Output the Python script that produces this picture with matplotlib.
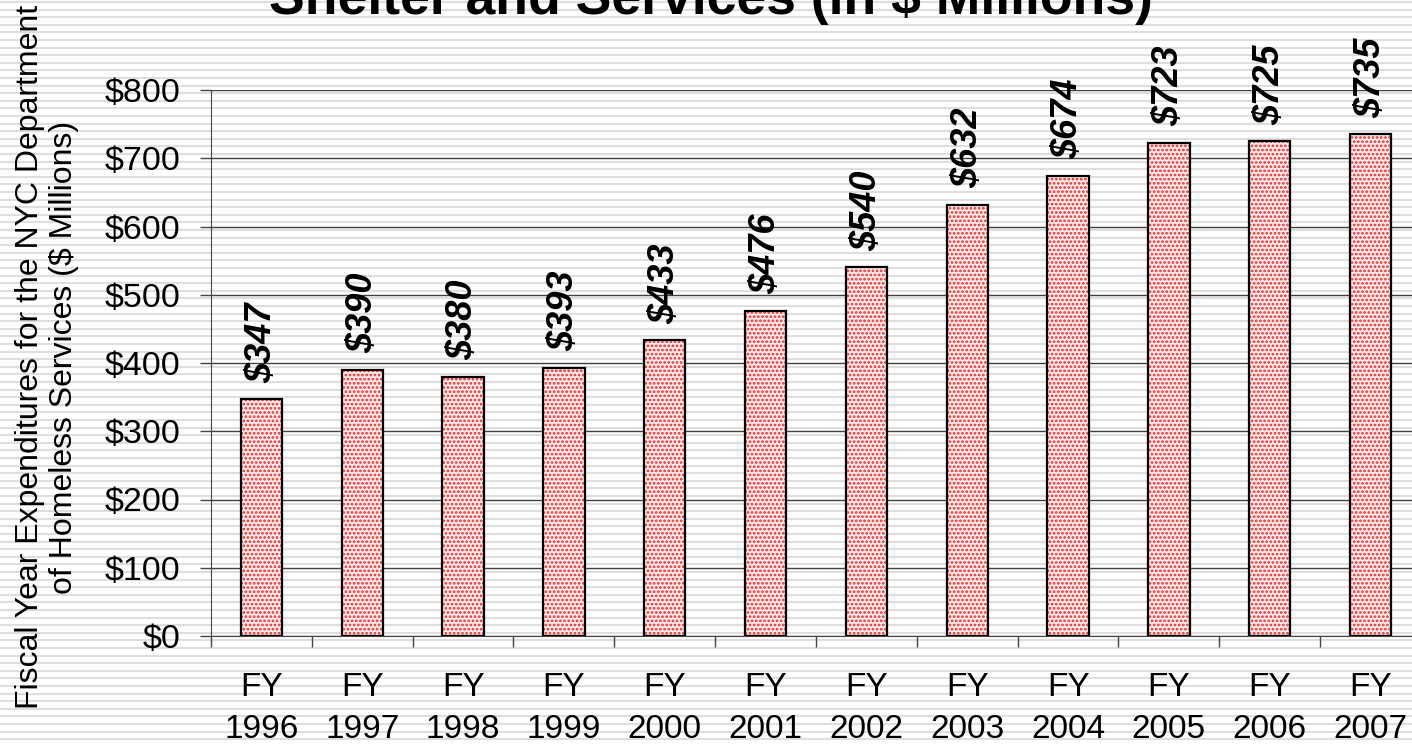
import matplotlib
matplotlib.use("Agg")
import matplotlib.pyplot as plt
import numpy as np

years = ["1996", "1997", "1998", "1999", "2000", "2001", "2002", "2003", "2004", "2005", "2006", "2007"]
values = [347, 390, 380, 393, 433, 476, 540, 632, 674, 723, 725, 735]
tick_labels = [f"FY\n{y}" for y in years]
y_ticks = [0, 100, 200, 300, 400, 500, 600, 700, 800]
title = "Shelter and Services (in $ Millions)"
ylabel = "Fiscal Year Expenditures for the NYC Department\nof Homeless Services ($ Millions)"

plt.rcParams['font.family'] = ['Liberation Sans', 'DejaVu Sans']
plt.rcParams['hatch.linewidth'] = 1.3

W, H = 1412, 745
fig = plt.figure(figsize=(W / 100, H / 100), dpi=100)
fig.patch.set_facecolor('white')

# striped background
bg = fig.add_axes([0, 0, 1, 1], zorder=-10)
bg.set_xlim(0, W)
bg.set_ylim(H, 0)
bg.axis('off')
for yy in np.arange(2.0, H, 7.6):
    bg.axhline(yy, color='#dedede', lw=1.5)

ax = fig.add_axes([211 / W, (H - 636) / H, 1210 / W, (636 - 90) / H])
ax.patch.set_alpha(0)
x = np.arange(len(values))
ax.bar(x, values, width=0.41, color='#fce8e8', edgecolor='#e53030', hatch='....', lw=0, zorder=2)
ax.bar(x, values, width=0.41, fill=False, edgecolor='black', lw=1.6, zorder=3)

ax.set_xlim(-0.5, len(values) - 0.5)
ax.set_ylim(0, 800)
ax.set_yticks(y_ticks)
ax.set_yticklabels([f"${v}" for v in y_ticks], fontsize=24.5)
ax.yaxis.grid(True, color='#404040', lw=1.0, zorder=1)
ax.set_axisbelow(True)
ax.tick_params(axis='y', length=8, width=1, color='#444444', pad=14)

ax.set_xticks(x)
ax.set_xticklabels(tick_labels, fontsize=24, linespacing=1.45)
ax.set_xticks(np.arange(-0.5, len(values), 1), minor=True)
ax.tick_params(axis='x', which='major', length=0, pad=26)
ax.tick_params(axis='x', which='minor', length=8, width=1, color='#444444')

for s in ['top', 'right']:
    ax.spines[s].set_visible(False)
ax.spines['left'].set_color('#444444')
ax.spines['bottom'].set_color('#444444')

for xi, v in zip(x, values):
    ax.annotate(f"${v}", (xi, v), xytext=(0, 12), textcoords='offset points',
                rotation=90, ha='center', va='bottom', fontsize=26,
                fontweight='bold', fontstyle='italic')

fig.text(711 / W, 1 - 14 / H, title, ha='center', va='baseline',
         fontsize=38.5, fontweight='bold')
fig.text(47 / W, 1 - 357 / H, ylabel, ha='center', va='center', rotation=90,
         fontsize=23, linespacing=1.2, multialignment='center')

fig.savefig("out.png", dpi=100)
